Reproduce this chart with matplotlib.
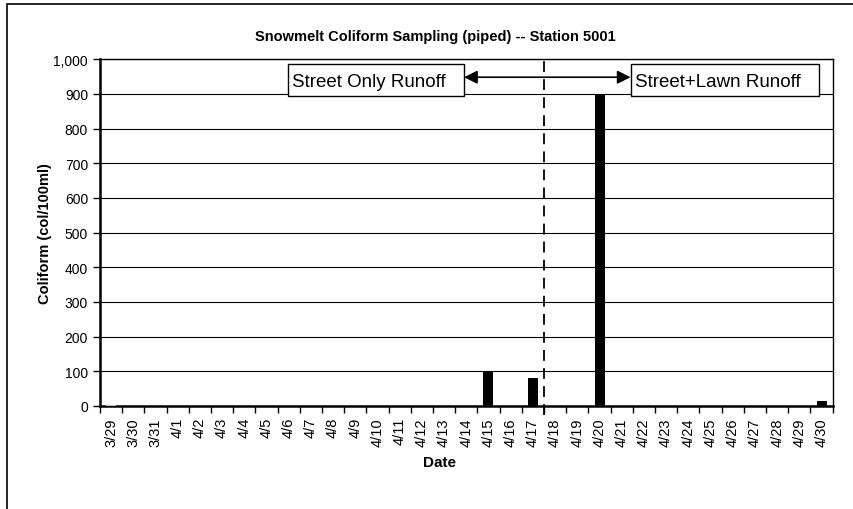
import matplotlib.pyplot as plt
from matplotlib.patches import Rectangle

plt.rcParams['font.family'] = ['Liberation Sans', 'DejaVu Sans']

# sampling dates and coliform counts (col/100ml)
dates = ['3/29', '3/30', '3/31'] + ['4/%d' % d for d in range(1, 31)]
coliform = [2, 0, 0, 0, 0, 0, 0, 0, 0, 0, 0, 0, 0, 0, 0, 0, 0,
            100, 0, 80, 0, 0, 900, 0, 0, 0, 0, 0, 0, 0, 0, 0, 15]
yticks = list(range(0, 1001, 100))
switchDate = '4/18'  # first day of street+lawn runoff

fig = plt.figure(figsize=(8.54, 5.1), dpi=100)
ax = fig.add_axes([0.117, 0.202, 0.858, 0.68])

# outer chart border (cut off on right and bottom)
fig.patches.append(Rectangle((7 / 854, -0.1), 1.2, 1 - 5 / 510 + 0.1,
                             transform=fig.transFigure, fill=False,
                             edgecolor='black', linewidth=1.2))

x = list(range(len(dates)))
ax.bar(x, coliform, width=0.45, color='black', zorder=3)
ax.bar(0, coliform[0], width=0.45, color='#bbbbbb', zorder=4)

ax.set_xlim(-0.5, len(dates) - 0.5)
ax.set_ylim(0, 1000)
ax.set_yticks(yticks)
ax.set_yticklabels(['{:,}'.format(v) for v in yticks], fontsize=10)
ax.yaxis.grid(True, color='black', linewidth=0.8)
ax.set_axisbelow(True)

ax.set_xticks(x)
ax.set_xticklabels(dates, rotation=90, fontsize=10.5)
ax.set_xticks([i - 0.5 for i in range(len(dates) + 1)], minor=True)
ax.tick_params(axis='x', which='major', length=0, pad=8)
ax.tick_params(axis='x', which='minor', length=5, width=1)
ax.tick_params(axis='y', length=5, width=1)

for side in ['left', 'bottom']:
    ax.spines[side].set_linewidth(1.8)
for side in ['top', 'right']:
    ax.spines[side].set_linewidth(1.0)

# divider between the two runoff periods
xs = dates.index(switchDate) - 0.5
ax.plot([xs, xs], [-25, 1000], color='black', linestyle='--',
        linewidth=1.3, dashes=(6, 4), clip_on=False, zorder=5)

ax.annotate('', xy=(15.9, 948), xytext=(23.4, 948),
            arrowprops=dict(arrowstyle='<|-|>', color='black', lw=1.2,
                            mutation_scale=20, shrinkA=0, shrinkB=0))

# label boxes (left edge, right edge in category units)
for x0, x1, label in [(7.95, 15.9, 'Street Only Runoff'),
                      (23.4, 31.9, 'Street+Lawn Runoff')]:
    ax.add_patch(Rectangle((x0, 893), x1 - x0, 92, facecolor='white',
                           edgecolor='black', lw=1, zorder=6))
    ax.text(x0 + 0.2, 937, label, fontsize=13.5, ha='left', va='center',
            zorder=7)

fig.text(435 / 854, 1 - 37 / 510, 'Snowmelt Coliform Sampling (piped) -- Station 5001',
         fontsize=10.5, fontweight='bold', ha='center', va='center')
ax.set_ylabel('Coliform (col/100ml)', fontsize=10.5, fontweight='bold', labelpad=1)
fig.text(440 / 854, 1 - 463 / 510, 'Date', fontsize=11, fontweight='bold',
         ha='center', va='center')

fig.savefig('out.png', dpi=100)
